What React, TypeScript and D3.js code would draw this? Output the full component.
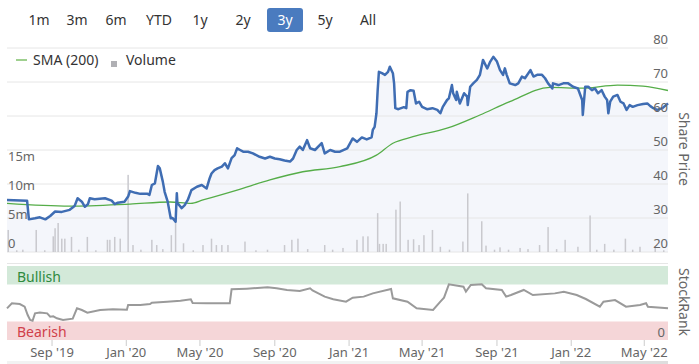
import React from 'react';
import * as d3 from 'd3';

const rangeButtons = ['1m', '3m', '6m', 'YTD', '1y', '2y', '3y', '5y', 'All'];
const buttonCenters = [39, 77, 116, 159, 200, 243, 285, 325, 368];
const selectedButton = '3y';

// share price (close)
const priceSeries: [string, number][] = [
  ['2019-06-19', 35.3], ['2019-07-22', 35.1], ['2019-07-25', 29.6], ['2019-08-04', 29.9],
  ['2019-08-12', 30.2], ['2019-08-21', 29.6], ['2019-08-29', 30.6], ['2019-09-06', 31.9],
  ['2019-09-17', 31.8], ['2019-09-30', 32.4], ['2019-10-08', 33.5], ['2019-10-13', 35.8],
  ['2019-10-20', 34.8], ['2019-10-25', 33.3], ['2019-10-30', 34.1], ['2019-11-02', 35.8],
  ['2019-11-10', 35.5], ['2019-11-27', 35.8], ['2019-12-08', 35.1], ['2019-12-13', 34.1],
  ['2019-12-18', 34.5], ['2019-12-29', 34.8], ['2020-01-04', 36.3], ['2020-01-07', 37.9],
  ['2020-01-16', 37.4], ['2020-01-24', 37.1], ['2020-02-05', 37.1], ['2020-02-08', 36.8],
  ['2020-02-12', 39.7], ['2020-02-17', 40.2], ['2020-02-22', 45.3], ['2020-02-25', 44.6],
  ['2020-03-01', 40.7], ['2020-03-04', 37.7], ['2020-03-09', 34.8], ['2020-03-14', 29.9],
  ['2020-03-17', 30.0], ['2020-03-22', 28.9], ['2020-03-24', 37.3], ['2020-03-25', 34.4],
  ['2020-04-01', 32.9], ['2020-04-06', 33.8], ['2020-04-11', 35.3], ['2020-04-17', 38.2],
  ['2020-04-26', 39.2], ['2020-05-04', 39.7], ['2020-05-12', 38.7], ['2020-05-17', 41.7],
  ['2020-05-20', 43.1], ['2020-05-25', 44.1], ['2020-05-30', 44.6], ['2020-06-06', 45.1],
  ['2020-06-11', 46.1], ['2020-06-16', 44.6], ['2020-06-22', 47.6], ['2020-06-27', 48.5],
  ['2020-07-01', 50.5], ['2020-07-06', 50.0], ['2020-07-11', 49.5], ['2020-07-19', 49.5],
  ['2020-07-27', 49.0], ['2020-08-07', 48.0], ['2020-08-16', 47.5], ['2020-08-24', 48.0],
  ['2020-09-01', 47.5], ['2020-09-09', 47.3], ['2020-09-17', 46.9], ['2020-09-26', 46.6],
  ['2020-10-01', 47.5], ['2020-10-07', 50.0], ['2020-10-12', 51.0], ['2020-10-17', 50.0],
  ['2020-10-24', 52.9], ['2020-10-29', 50.5], ['2020-11-06', 50.0], ['2020-11-17', 52.0],
  ['2020-11-22', 49.0], ['2020-12-01', 50.0], ['2020-12-09', 49.5], ['2020-12-17', 49.5],
  ['2020-12-29', 50.5], ['2021-01-07', 53.4], ['2021-01-14', 52.4], ['2021-01-22', 53.7],
  ['2021-01-30', 53.1], ['2021-02-07', 53.7], ['2021-02-09', 55.9], ['2021-02-12', 56.8],
  ['2021-02-15', 60.8], ['2021-02-17', 67.6], ['2021-02-19', 73.0], ['2021-02-24', 72.6],
  ['2021-03-01', 72.1], ['2021-03-06', 73.0], ['2021-03-09', 74.5], ['2021-03-14', 72.6],
  ['2021-03-16', 69.6], ['2021-03-18', 62.3], ['2021-03-23', 62.0], ['2021-04-01', 62.6],
  ['2021-04-05', 62.3], ['2021-04-07', 67.1], ['2021-04-12', 67.6], ['2021-04-17', 67.4],
  ['2021-04-21', 63.7], ['2021-04-26', 64.2], ['2021-05-01', 62.7], ['2021-05-09', 62.0],
  ['2021-05-18', 62.3], ['2021-05-26', 61.8], ['2021-05-31', 60.8], ['2021-06-04', 62.7],
  ['2021-06-11', 64.7], ['2021-06-14', 65.2], ['2021-06-19', 69.1], ['2021-06-21', 66.7],
  ['2021-06-26', 64.7], ['2021-06-27', 67.1], ['2021-07-02', 63.7], ['2021-07-09', 66.7],
  ['2021-07-14', 65.7], ['2021-07-15', 63.2], ['2021-07-19', 68.6], ['2021-07-24', 69.6],
  ['2021-07-30', 70.6], ['2021-08-04', 72.1], ['2021-08-09', 76.5], ['2021-08-16', 74.0],
  ['2021-08-21', 76.0], ['2021-08-26', 77.4], ['2021-09-01', 76.0], ['2021-09-06', 73.5],
  ['2021-09-11', 72.1], ['2021-09-14', 74.0], ['2021-09-17', 72.1], ['2021-09-22', 69.6],
  ['2021-10-01', 69.1], ['2021-10-06', 69.6], ['2021-10-12', 71.6], ['2021-10-17', 71.1],
  ['2021-10-26', 73.5], ['2021-10-31', 71.6], ['2021-11-06', 72.1], ['2021-11-14', 72.1],
  ['2021-11-19', 71.1], ['2021-11-24', 69.6], ['2021-12-01', 68.1], ['2021-12-02', 69.6],
  ['2021-12-11', 69.1], ['2021-12-19', 69.6], ['2021-12-27', 69.6], ['2022-01-04', 68.6],
  ['2022-01-12', 68.1], ['2022-01-19', 64.7], ['2022-01-20', 60.3], ['2022-01-24', 68.6],
  ['2022-01-29', 68.6], ['2022-02-04', 67.6], ['2022-02-09', 68.1], ['2022-02-14', 66.7],
  ['2022-02-20', 67.6], ['2022-02-25', 65.7], ['2022-03-01', 64.7], ['2022-03-03', 60.8],
  ['2022-03-06', 64.2], ['2022-03-11', 65.7], ['2022-03-18', 66.2], ['2022-03-23', 64.2],
  ['2022-03-28', 63.7], ['2022-04-02', 61.8], ['2022-04-07', 63.2], ['2022-04-12', 62.7],
  ['2022-04-20', 63.2], ['2022-04-29', 63.5], ['2022-05-06', 63.7], ['2022-05-11', 62.9],
  ['2022-05-16', 62.3], ['2022-05-22', 61.8], ['2022-05-31', 62.3], ['2022-06-09', 63.7],
];

const smaSeries: [string, number][] = [
  ['2019-06-19', 34.3], ['2019-09-30', 33.5], ['2020-01-07', 34.1], ['2020-03-13', 34.7],
  ['2020-04-16', 34.3], ['2020-05-06', 35.3], ['2020-07-01', 38.2], ['2020-08-24', 41.2],
  ['2020-10-17', 43.6], ['2020-12-17', 45.1], ['2021-02-15', 48.5], ['2021-03-14', 52.0],
  ['2021-04-16', 53.9], ['2021-06-11', 56.4], ['2021-08-04', 60.3], ['2021-09-22', 64.2],
  ['2021-11-27', 68.4], ['2022-01-20', 68.2], ['2022-03-18', 69.1], ['2022-04-29', 68.8],
  ['2022-06-09', 67.5],
];

// volume in millions
const volumeSeries: [string, number][] = [
  ['2019-06-21', 3.8], ['2019-07-05', 0.3], ['2019-07-15', 0.4], ['2019-08-06', 3.8],
  ['2019-08-20', 0.3], ['2019-09-03', 2.7], ['2019-09-06', 4.1], ['2019-09-11', 5.0],
  ['2019-09-17', 2.3], ['2019-09-22', 2.3], ['2019-10-03', 2.6], ['2019-10-15', 0.4],
  ['2019-10-29', 2.6], ['2019-11-12', 0.3], ['2019-12-01', 2.1], ['2019-12-05', 2.1],
  ['2019-12-13', 2.6], ['2019-12-22', 2.3], ['2020-01-04', 13.3], ['2020-01-12', 1.2],
  ['2020-01-25', 0.4], ['2020-02-12', 2.1], ['2020-02-20', 1.2], ['2020-03-01', 0.5],
  ['2020-03-15', 2.9], ['2020-03-22', 5.9], ['2020-04-04', 1.5], ['2020-04-20', 0.3],
  ['2020-05-06', 1.2], ['2020-05-20', 2.3], ['2020-05-28', 1.2], ['2020-06-06', 1.2],
  ['2020-06-16', 1.2], ['2020-07-14', 1.8], ['2020-08-01', 0.3], ['2020-08-20', 0.4],
  ['2020-09-17', 1.2], ['2020-09-29', 2.1], ['2020-10-09', 2.3], ['2020-10-25', 0.5],
  ['2020-11-22', 1.2], ['2020-12-05', 0.4], ['2020-12-22', 0.7], ['2021-01-14', 2.1],
  ['2021-01-24', 2.7], ['2021-02-01', 2.7], ['2021-02-17', 6.7], ['2021-02-20', 1.4],
  ['2021-02-26', 1.4], ['2021-03-03', 1.4], ['2021-03-19', 7.3], ['2021-03-26', 8.7],
  ['2021-04-08', 2.1], ['2021-04-17', 2.2], ['2021-04-26', 1.2], ['2021-05-04', 2.9],
  ['2021-05-18', 3.8], ['2021-05-31', 0.9], ['2021-06-15', 0.4], ['2021-07-07', 1.8],
  ['2021-07-15', 10.1], ['2021-08-07', 5.3], ['2021-08-14', 1.1], ['2021-08-28', 0.4],
  ['2021-09-06', 0.8], ['2021-09-20', 0.4], ['2021-10-09', 0.7], ['2021-10-22', 0.5],
  ['2021-11-10', 1.2], ['2021-11-24', 4.3], ['2021-12-08', 0.5], ['2021-12-22', 2.1],
  ['2022-01-12', 0.9], ['2022-02-01', 6.3], ['2022-02-12', 0.4], ['2022-02-25', 1.4],
  ['2022-03-12', 0.4], ['2022-03-31', 2.3], ['2022-04-12', 0.4], ['2022-04-24', 0.9],
  ['2022-05-19', 0.7], ['2022-06-02', 0.3],
];

const rankSeries: [string, number][] = [
  ['2019-06-19', 42.8], ['2019-06-27', 49.6], ['2019-07-10', 48.6], ['2019-07-18', 45.0],
  ['2019-07-23', 33.8], ['2019-07-27', 27.0], ['2019-07-31', 26.0], ['2019-08-04', 36.0],
  ['2019-08-12', 37.0], ['2019-08-24', 36.0], ['2019-08-29', 31.5], ['2019-09-03', 32.0],
  ['2019-09-09', 29.3], ['2019-09-19', 27.0], ['2019-10-05', 28.8], ['2019-10-12', 42.8],
  ['2019-10-20', 40.5], ['2019-10-29', 37.0], ['2019-11-19', 40.5], ['2019-12-10', 41.4],
  ['2020-01-02', 41.0], ['2020-01-04', 47.3], ['2020-01-24', 47.3], ['2020-02-09', 48.6],
  ['2020-02-12', 50.5], ['2020-03-08', 51.8], ['2020-03-30', 53.2], ['2020-04-16', 55.0],
  ['2020-04-19', 50.0], ['2020-05-13', 49.6], ['2020-06-19', 49.6], ['2020-06-22', 68.5],
  ['2020-07-17', 69.4], ['2020-08-20', 71.2], ['2020-09-04', 70.0], ['2020-09-21', 67.6],
  ['2020-10-12', 66.2], ['2020-10-29', 69.8], ['2020-11-02', 67.0], ['2020-11-22', 58.6],
  ['2020-12-06', 55.0], ['2020-12-27', 51.8], ['2021-01-07', 57.2], ['2021-01-25', 58.6],
  ['2021-02-09', 63.0], ['2021-03-11', 68.9], ['2021-03-14', 56.3], ['2021-04-07', 51.8],
  ['2021-04-22', 42.8], ['2021-05-19', 40.5], ['2021-05-31', 51.8], ['2021-06-06', 57.2],
  ['2021-06-14', 75.2], ['2021-07-08', 72.0], ['2021-07-12', 65.3], ['2021-07-20', 74.3],
  ['2021-08-07', 75.2], ['2021-08-14', 69.8], ['2021-09-09', 67.6], ['2021-09-16', 58.6],
  ['2021-09-24', 60.8], ['2021-10-15', 67.6], ['2021-10-30', 60.8], ['2021-12-05', 63.0],
  ['2021-12-20', 65.3], ['2022-01-10', 60.8], ['2022-01-25', 55.4], ['2022-02-17', 45.0],
  ['2022-02-23', 51.8], ['2022-03-14', 54.0], ['2022-04-01', 45.0], ['2022-04-24', 47.3],
  ['2022-05-04', 49.6], ['2022-05-07', 45.0], ['2022-06-09', 42.8],
];

const priceTicks = [20, 30, 40, 50, 60, 70, 80];
const volumeTicks = [0, 5, 10, 15];
const volumeTickLabels = ['0', '5m', '10m', '15m'];
const monthTicks = ['2019-09-01', '2020-01-01', '2020-05-01', '2020-09-01', '2021-01-01',
  '2021-05-01', '2021-09-01', '2022-01-01', '2022-05-01'];
const monthTickLabels = ["Sep '19", "Jan '20", "May '20", "Sep '20", "Jan '21",
  "May '21", "Sep '21", "Jan '22", "May '22"];

const parse = d3.timeParse('%Y-%m-%d');
const FONT = '"Noto Sans", "Open Sans", sans-serif';

const App: React.FC = () => {
  const width = 699;
  const height = 364;
  const left = 7;
  const right = 668;

  const x = d3.scaleTime()
    .domain([parse('2019-06-19') as Date, parse('2022-06-09') as Date])
    .range([left, right]);
  const yPrice = d3.scaleLinear().domain([20, 80]).range([252, 48]);
  const yVol = d3.scaleLinear().domain([0, 15]).range([252, 165]);
  const yRank = d3.scaleLinear().domain([0, 100]).range([340, 266]);

  const pt = (d: [string, number]) => parse(d[0]) as Date;

  const priceLine = d3.line<[string, number]>()
    .x(d => x(pt(d)))
    .y(d => yPrice(d[1]));
  const priceArea = d3.area<[string, number]>()
    .x(d => x(pt(d)))
    .y0(yPrice(20))
    .y1(d => yPrice(d[1]));
  const smaLine = d3.line<[string, number]>()
    .x(d => x(pt(d)))
    .y(d => yPrice(d[1]))
    .curve(d3.curveMonotoneX);
  const rankLine = d3.line<[string, number]>()
    .x(d => x(pt(d)))
    .y(d => yRank(d[1]));

  return (
    <svg width={width} height={height} style={{ position: 'absolute', left: 0, top: 0, background: '#fff' }}
      fontFamily={FONT}>
      {/* range selector */}
      <rect x={267} y={8} width={36} height={24} rx={3} fill="#4a7bbf" />
      {rangeButtons.map((b, i) => (
        <text key={b} x={buttonCenters[i]} y={25} textAnchor="middle" fontSize={14}
          fill={b === selectedButton ? '#fff' : '#333'}>{b}</text>
      ))}

      {/* price panel */}
      <path d={priceArea(priceSeries) || ''} fill="#f4f6fb" />
      {priceTicks.map(t => (
        <line key={t} x1={left} x2={right} y1={yPrice(t)} y2={yPrice(t)} stroke="#e6e6e6" />
      ))}
      {volumeSeries.map(d => (
        <rect key={d[0]} x={x(pt(d)) - 0.75} width={1.5} y={yVol(d[1])}
          height={yVol(0) - yVol(d[1])} fill="#c9c9ce" />
      ))}
      <path d={smaLine(smaSeries) || ''} fill="none" stroke="#55ad48" strokeWidth={1.3} />
      <path d={priceLine(priceSeries) || ''} fill="none" stroke="#3f6db3" strokeWidth={2.5}
        strokeLinejoin="round" />
      {priceTicks.map(t => (
        <text key={t} x={right} y={yPrice(t) - 4} textAnchor="end" fontSize={13} fill="#666">{t}</text>
      ))}
      {volumeTicks.map((t, i) => (
        <text key={t} x={8} y={yVol(t) - 4} fontSize={13} fill="#666">{volumeTickLabels[i]}</text>
      ))}
      <text transform="translate(679,149) rotate(90)" textAnchor="middle" fontSize={14} fill="#666">Share Price</text>

      {/* legend */}
      <line x1={16} x2={27} y1={60} y2={60} stroke="#9fd08f" strokeWidth={2} />
      <text x={33} y={65} fontSize={14} fill="#333">SMA (200)</text>
      <rect x={111} y={61} width={6} height={6} fill="#b0b0b4" />
      <text x={126} y={65} fontSize={14} fill="#333">Volume</text>

      {/* stockrank panel */}
      <line x1={left} x2={right} y1={263.5} y2={263.5} stroke="#e6e6e6" />
      <rect x={left} width={right - left} y={yRank(100)} height={yRank(75) - yRank(100)} fill="#d3e9d9" />
      <rect x={left} width={right - left} y={yRank(25)} height={yRank(0) - yRank(25)} fill="#f5d6d8" />
      <text x={17} y={282} fontSize={14} fill="#2f8a3e">Bullish</text>
      <text x={17} y={337} fontSize={14} fill="#d0404a">Bearish</text>
      <text x={665} y={337} textAnchor="end" fontSize={13} fill="#666">0</text>
      <path d={rankLine(rankSeries) || ''} fill="none" stroke="#9a9a9a" strokeWidth={2} />
      <text transform="translate(679,302) rotate(90)" textAnchor="middle" fontSize={14} fill="#666">StockRank</text>

      {/* time axis */}
      {monthTicks.map((m, i) => {
        const tx = x(parse(m) as Date);
        return (
          <g key={m}>
            <line x1={tx} x2={tx} y1={340} y2={346} stroke="#ccc" />
            <text x={tx} y={357} textAnchor="middle" fontSize={13} fill="#666">{monthTickLabels[i]}</text>
          </g>
        );
      })}
      <rect x={left} y={361} width={right - left} height={3} fill="#f2f2f2" />
      <rect x={560} y={361} width={right - 560} height={3} fill="#dedede" />
    </svg>
  );
};

export default App;
